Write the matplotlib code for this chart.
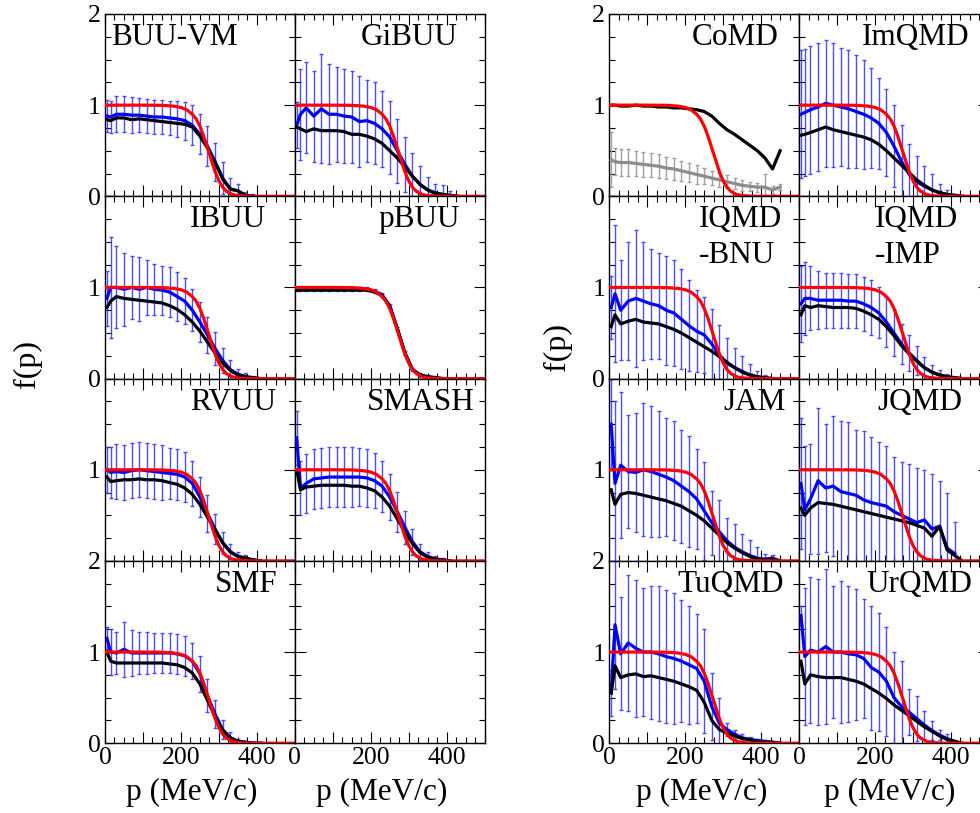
import numpy as np
import matplotlib
matplotlib.use("Agg")
import matplotlib.pyplot as plt
from matplotlib.ticker import MultipleLocator

plt.rcParams['font.family'] = ['Liberation Serif', 'DejaVu Serif']

N = np.nan

# momentum grid (MeV/c) shared by all transport-code curves
P = [5, 15, 30, 50, 70, 90, 110, 130, 150, 170, 190, 210, 230, 250, 270,
     290, 310, 330, 350, 370, 390, 410, 430, 450]

# red reference curve (ground state)
red_p = [0, 100, 150, 180, 200, 215, 230, 240, 250, 260, 270, 280, 290, 300,
         310, 320, 335, 350, 380, 500]
red_f = [1.0, 1.0, 0.998, 0.99, 0.975, 0.95, 0.9, 0.85, 0.77, 0.66, 0.53, 0.4,
         0.27, 0.17, 0.1, 0.055, 0.02, 0.008, 0.0, 0.0]

buuvm_blue = [0.88, 0.87, 0.9, 0.9, 0.89, 0.89, 0.88, 0.87, 0.87, 0.86, 0.85, 0.83, 0.78, 0.68, 0.55,
              0.38, 0.2, 0.08, 0.06, 0.01, 0.0, N, N, N]
buuvm_err = [0.18, 0.18, 0.2, 0.2, 0.2, 0.19, 0.19, 0.19, 0.19, 0.19, 0.2, 0.21, 0.22, 0.22, 0.22,
             0.21, 0.18, 0.12, 0.08, 0.04, 0.02, N, N, N]
buuvm_black = [0.84, 0.83, 0.86, 0.86, 0.84, 0.85, 0.84, 0.83, 0.82, 0.81, 0.8, 0.79, 0.76, 0.66, 0.53,
               0.37, 0.19, 0.08, 0.06, 0.01, 0.0, N, N, N]

gibuu_blue = [0.78, 0.9, 0.97, 0.88, 0.96, 0.9, 0.9, 0.88, 0.87, 0.82, 0.83, 0.8, 0.74, 0.65, 0.5,
              0.35, 0.22, 0.13, 0.07, 0.04, 0.02, 0.01, 0.0, N]
gibuu_err = [0.25, 0.5, 0.5, 0.5, 0.6, 0.55, 0.52, 0.52, 0.5, 0.5, 0.45, 0.45, 0.42, 0.4, 0.35,
             0.3, 0.25, 0.2, 0.14, 0.1, 0.1, 0.05, N, N]
gibuu_black = [0.76, 0.74, 0.71, 0.74, 0.72, 0.72, 0.72, 0.71, 0.68, 0.68, 0.66, 0.63, 0.58, 0.5, 0.42,
               0.32, 0.22, 0.13, 0.07, 0.03, 0.02, 0.01, 0.0, N]

ibuu_blue = [0.88, 1.0, 1.0, 0.98, 1.0, 0.98, 1.0, 0.98, 0.97, 0.95, 0.9, 0.85, 0.75, 0.62, 0.48,
             0.33, 0.2, 0.1, 0.05, 0.02, 0.01, 0.0, N, N]
ibuu_err = [0.3, 0.55, 0.45, 0.4, 0.35, 0.35, 0.3, 0.28, 0.27, 0.27, 0.27, 0.25, 0.23, 0.22, 0.2,
            0.18, 0.14, 0.1, 0.06, 0.04, 0.02, N, N, N]
ibuu_black = [0.78, 0.85, 0.9, 0.88, 0.87, 0.86, 0.85, 0.84, 0.83, 0.8, 0.76, 0.7, 0.62, 0.52, 0.4,
              0.28, 0.17, 0.09, 0.04, 0.02, 0.01, 0.0, N, N]

pbuu_blue = [0.98, 0.98, 0.98, 0.98, 0.98, 0.98, 0.98, 0.98, 0.98, 0.98, 0.98, 0.96, 0.92, 0.8, 0.55,
             0.28, 0.1, 0.04, 0.02, 0.01, 0.0, 0.0, 0.0, N]
pbuu_err = [0.02] * 21 + [N, N, N]
pbuu_black = [0.97, 0.97, 0.97, 0.97, 0.97, 0.97, 0.97, 0.97, 0.97, 0.97, 0.97, 0.95, 0.91, 0.79, 0.55,
              0.28, 0.1, 0.04, 0.02, 0.01, 0.0, 0.0, 0.0, N]

rvuu_blue = [1.0, 0.97, 0.98, 0.97, 0.99, 1.0, 0.99, 0.98, 0.97, 0.96, 0.95, 0.92, 0.85, 0.7, 0.52,
             0.35, 0.2, 0.1, 0.05, 0.03, 0.01, 0.0, N, N]
rvuu_err = [0.25, 0.28, 0.3, 0.3, 0.3, 0.3, 0.3, 0.3, 0.3, 0.28, 0.28, 0.27, 0.25, 0.22, 0.2,
            0.17, 0.12, 0.08, 0.05, 0.03, 0.02, N, N, N]
rvuu_black = [0.92, 0.87, 0.88, 0.89, 0.89, 0.9, 0.89, 0.89, 0.88, 0.86, 0.84, 0.8, 0.73, 0.62, 0.48,
              0.34, 0.2, 0.1, 0.05, 0.03, 0.01, 0.0, N, N]

smash_blue = [1.35, 0.8, 0.85, 0.9, 0.91, 0.92, 0.92, 0.92, 0.92, 0.92, 0.91, 0.88, 0.82, 0.7, 0.54,
              0.37, 0.21, 0.1, 0.05, 0.02, 0.01, 0.0, N, N]
smash_err = [0.3, 0.3, 0.32, 0.33, 0.33, 0.33, 0.33, 0.33, 0.33, 0.32, 0.32, 0.3, 0.28, 0.25, 0.22,
             0.18, 0.14, 0.09, 0.05, 0.03, 0.02, N, N, N]
smash_black = [1.0, 0.78, 0.81, 0.82, 0.83, 0.83, 0.83, 0.83, 0.82, 0.82, 0.8, 0.77, 0.7, 0.6, 0.46,
               0.32, 0.19, 0.09, 0.04, 0.02, 0.01, 0.0, N, N]

smf_blue = [1.15, 1.0, 0.99, 1.03, 0.99, 0.99, 0.99, 0.99, 0.99, 0.99, 0.98, 0.96, 0.9, 0.76, 0.52,
            0.32, 0.15, 0.06, 0.02, 0.01, 0.0, 0.0, N, N]
smf_err = [0.12, 0.25, 0.23, 0.3, 0.25, 0.23, 0.23, 0.22, 0.22, 0.22, 0.22, 0.22, 0.2, 0.2, 0.18,
           0.15, 0.1, 0.06, 0.03, 0.01, N, N, N, N]
smf_black = [1.0, 0.9, 0.88, 0.88, 0.88, 0.88, 0.88, 0.88, 0.88, 0.87, 0.86, 0.83, 0.77, 0.65, 0.47,
             0.29, 0.14, 0.06, 0.02, 0.01, 0.0, 0.0, N, N]

# CoMD: grey points with bars instead of blue
comd_grey = [0.4, 0.38, 0.37, 0.37, 0.36, 0.35, 0.34, 0.33, 0.31, 0.3, 0.28, 0.26, 0.24, 0.22, 0.2,
             0.18, 0.16, 0.14, 0.12, 0.11, 0.1, 0.1, 0.07, 0.1]
comd_err = [0.3, 0.15, 0.15, 0.15, 0.14, 0.14, 0.13, 0.13, 0.12, 0.12, 0.11, 0.1, 0.1, 0.09, 0.08,
            0.08, 0.07, 0.06, 0.06, 0.05, 0.05, 0.15, 0.04, 0.03]
comd_black = [1.0, 1.0, 0.99, 0.99, 1.0, 0.99, 0.99, 0.98, 0.98, 0.97, 0.97, 0.96, 0.95, 0.93, 0.88,
              0.8, 0.73, 0.68, 0.62, 0.56, 0.5, 0.42, 0.3, 0.5]

imqmd_blue = [0.9, 0.92, 0.95, 0.98, 1.02, 1.0, 0.98, 0.96, 0.93, 0.9, 0.86, 0.8, 0.7, 0.55, 0.38,
              0.24, 0.16, 0.11, 0.07, 0.04, 0.02, 0.01, 0.0, N]
imqmd_err = [0.7, 0.7, 0.7, 0.7, 0.7, 0.68, 0.65, 0.65, 0.62, 0.6, 0.55, 0.5, 0.48, 0.45, 0.4,
             0.33, 0.28, 0.22, 0.17, 0.1, 0.05, 0.02, N, N]
imqmd_black = [0.67, 0.68, 0.7, 0.73, 0.76, 0.73, 0.71, 0.69, 0.67, 0.65, 0.62, 0.57, 0.5, 0.42, 0.34,
               0.26, 0.18, 0.12, 0.07, 0.04, 0.02, 0.01, 0.0, N]

bnu_blue = [0.78, 0.93, 0.75, 0.85, 0.88, 0.85, 0.82, 0.8, 0.75, 0.72, 0.65, 0.58, 0.52, 0.48, 0.38,
            0.26, 0.17, 0.12, 0.08, 0.04, 0.02, 0.01, 0.0, N]
bnu_err = [0.35, 0.75, 0.55, 0.65, 0.75, 0.65, 0.6, 0.58, 0.6, 0.58, 0.55, 0.5, 0.45, 0.42, 0.38,
           0.33, 0.28, 0.22, 0.17, 0.12, 0.06, 0.03, N, N]
bnu_black = [0.57, 0.7, 0.6, 0.63, 0.65, 0.62, 0.61, 0.6, 0.57, 0.54, 0.5, 0.45, 0.4, 0.35, 0.3,
             0.24, 0.18, 0.12, 0.07, 0.04, 0.02, 0.01, 0.0, N]

imp_blue = [0.82, 0.88, 0.88, 0.86, 0.86, 0.86, 0.86, 0.85, 0.85, 0.82, 0.78, 0.72, 0.62, 0.5, 0.38,
            0.28, 0.2, 0.12, 0.07, 0.04, 0.02, 0.01, 0.0, N]
imp_err = [0.42, 0.4, 0.35, 0.32, 0.3, 0.3, 0.3, 0.3, 0.3, 0.3, 0.3, 0.28, 0.27, 0.25, 0.22,
           0.2, 0.16, 0.12, 0.08, 0.05, 0.03, N, N, N]
imp_black = [0.7, 0.8, 0.78, 0.8, 0.79, 0.78, 0.78, 0.78, 0.77, 0.74, 0.7, 0.65, 0.57, 0.47, 0.36,
             0.27, 0.19, 0.12, 0.07, 0.04, 0.02, 0.01, 0.0, N]

jam_blue = [1.5, 0.85, 1.05, 0.98, 0.97, 1.0, 0.98, 0.95, 0.92, 0.88, 0.82, 0.76, 0.68, 0.55, 0.42,
            0.32, 0.22, 0.15, 0.1, 0.06, 0.03, 0.02, 0.03, 0.0]
jam_err = [0.5, 0.9, 0.8, 0.62, 0.65, 0.73, 0.72, 0.69, 0.65, 0.65, 0.62, 0.61, 0.55, 0.54, 0.35,
           0.35, 0.25, 0.25, 0.2, 0.17, 0.12, 0.06, 0.04, N]
jam_black = [0.78, 0.62, 0.73, 0.75, 0.74, 0.72, 0.7, 0.68, 0.66, 0.63, 0.6, 0.55, 0.5, 0.44, 0.36,
             0.28, 0.2, 0.14, 0.09, 0.05, 0.02, 0.01, 0.02, 0.0]

jqmd_blue = [0.85, 0.56, 0.68, 0.88, 0.8, 0.82, 0.76, 0.74, 0.72, 0.67, 0.64, 0.62, 0.6, 0.54, 0.5,
             0.46, 0.42, 0.45, 0.35, 0.38, 0.14, 0.08, N, N]
jqmd_err = [0.72, 0.7, 0.6, 0.8, 0.7, 0.77, 0.78, 0.78, 0.72, 0.75, 0.72, 0.68, 0.66, 0.6, 0.58,
            0.6, 0.6, 0.55, 0.6, 0.5, 0.6, 0.35, N, N]
jqmd_black = [0.58, 0.5, 0.58, 0.64, 0.63, 0.62, 0.6, 0.58, 0.56, 0.54, 0.52, 0.5, 0.48, 0.46, 0.44,
              0.42, 0.39, 0.36, 0.27, 0.38, 0.12, 0.06, 0.0, N]

tuqmd_blue = [0.55, 1.3, 0.98, 1.1, 1.04, 1.0, 1.0, 0.98, 0.95, 0.93, 0.9, 0.86, 0.82, 0.68, 0.4,
              0.22, 0.15, 0.1, 0.06, 0.04, 0.03, 0.02, 0.01, 0.0]
tuqmd_err = [0.25, 0.7, 0.62, 0.75, 0.75, 0.7, 0.73, 0.74, 0.73, 0.72, 0.67, 0.65, 0.6, 0.57, 0.37,
             0.28, 0.07, 0.05, 0.04, 0.03, 0.02, 0.02, 0.01, N]
tuqmd_black = [0.55, 0.85, 0.72, 0.75, 0.76, 0.73, 0.74, 0.72, 0.7, 0.68, 0.65, 0.62, 0.58, 0.45, 0.25,
               0.15, 0.11, 0.08, 0.05, 0.04, 0.02, 0.01, 0.01, 0.0]

urqmd_blue = [1.4, 0.95, 1.02, 1.0, 1.06, 1.0, 1.0, 0.98, 0.97, 0.93, 0.83, 0.78, 0.68, 0.5, 0.4,
              0.34, 0.27, 0.2, 0.14, 0.09, 0.05, 0.02, N, N]
urqmd_err = [0.1, 0.75, 0.8, 0.8, 0.85, 0.72, 0.78, 0.75, 0.72, 0.65, 0.68, 0.65, 0.6, 0.5, 0.5,
             0.25, 0.25, 0.15, 0.1, 0.05, 0.05, 0.02, N, N]
urqmd_black = [0.9, 0.65, 0.75, 0.73, 0.72, 0.72, 0.72, 0.7, 0.68, 0.65, 0.6, 0.55, 0.49, 0.42, 0.36,
               0.3, 0.24, 0.18, 0.13, 0.08, 0.04, 0.02, 0.0, N]

# (title, x of title in axes fraction, alignment, mean, error, black, bar colour)
panels = {
    (0, 0, 0): ("BUU-VM", 0.03, "left", buuvm_blue, buuvm_err, buuvm_black, "b"),
    (0, 0, 1): ("GiBUU", 0.86, "right", gibuu_blue, gibuu_err, gibuu_black, "b"),
    (0, 1, 0): ("IBUU", 0.85, "right", ibuu_blue, ibuu_err, ibuu_black, "b"),
    (0, 1, 1): ("pBUU", 0.87, "right", pbuu_blue, pbuu_err, pbuu_black, "b"),
    (0, 2, 0): ("RVUU", 0.9, "right", rvuu_blue, rvuu_err, rvuu_black, "b"),
    (0, 2, 1): ("SMASH", 0.95, "right", smash_blue, smash_err, smash_black, "b"),
    (0, 3, 0): ("SMF", 0.91, "right", smf_blue, smf_err, smf_black, "b"),
    (0, 3, 1): None,
    (1, 0, 0): ("CoMD", 0.89, "right", comd_grey, comd_err, comd_black, "g"),
    (1, 0, 1): ("ImQMD", 0.9, "right", imqmd_blue, imqmd_err, imqmd_black, "b"),
    (1, 1, 0): ("IQMD\n-BNU", 0.47, "left", bnu_blue, bnu_err, bnu_black, "b"),
    (1, 1, 1): ("IQMD\n-IMP", 0.4, "left", imp_blue, imp_err, imp_black, "b"),
    (1, 2, 0): ("JAM", 0.93, "right", jam_blue, jam_err, jam_black, "b"),
    (1, 2, 1): ("JQMD", 0.86, "right", jqmd_blue, jqmd_err, jqmd_black, "b"),
    (1, 3, 0): ("TuQMD", 0.92, "right", tuqmd_blue, tuqmd_err, tuqmd_black, "b"),
    (1, 3, 1): ("UrQMD", 0.91, "right", urqmd_blue, urqmd_err, urqmd_black, "b"),
}

W, H = 980, 813
fig = plt.figure(figsize=(W / 100, H / 100), dpi=100)

block_x = [105, 609.3]
col_w = 189.8
top = 14
row_h = 182.3
ylab_rows = [["0", "1", "2"], ["0", "1", ""], ["", "1", ""], ["0", "1", "2"]]

for (b, r, c), info in panels.items():
    x0 = block_x[b] + c * col_w
    y0 = top + (r + 1) * row_h
    ax = fig.add_axes([x0 / W, 1 - y0 / H, col_w / W, row_h / H])
    ax.set_xlim(0, 500)
    ax.set_ylim(0, 2)
    ax.set_xticks([0, 100, 200, 300, 400, 500])
    ax.xaxis.set_minor_locator(MultipleLocator(25))
    ax.set_yticks([0, 1, 2])
    ax.yaxis.set_minor_locator(MultipleLocator(0.25))
    ax.tick_params(which="both", direction="in", top=True, right=True, width=0.8)
    ax.tick_params(which="major", length=8, labelsize=18.5, pad=3)
    ax.tick_params(which="minor", length=4)
    for s in ax.spines.values():
        s.set_linewidth(1.0)
    if r == 3:
        ax.set_xticklabels(["0", "", "200", "", "400", ""])
    else:
        ax.tick_params(labelbottom=False)
    if c == 0:
        ax.set_yticklabels(ylab_rows[r])
    else:
        ax.tick_params(labelleft=False)
    if info is None:
        continue
    name, tx, ha, mean, err, black, bc = info
    if bc == "b":
        ax.errorbar(P, mean, yerr=err, fmt="none", ecolor="#3a3aff", elinewidth=1.0,
                    capsize=1.6, capthick=1.0, alpha=0.9, zorder=2)
        ax.plot(P, mean, color="#0000ff", lw=2.3, zorder=3)
    else:
        ax.errorbar(P, mean, yerr=err, fmt="none", ecolor="#a0a0a0", elinewidth=1.0,
                    capsize=1.6, capthick=1.0, zorder=2)
        ax.plot(P, mean, color="#8c8c8c", lw=2.3, zorder=3)
    ax.plot(P, black, color="black", lw=2.3, zorder=4)
    ax.plot(red_p, red_f, color="#ff0000", lw=2.3, zorder=5)
    for k, line in enumerate(name.split("\n")):
        ax.text(tx, 1 - (31 + 36 * k) / row_h, line, transform=ax.transAxes,
                ha=ha, va="baseline", fontsize=22.5)

for xc in [192, 382, 702, 890]:
    fig.text(xc / W, 1 - 792 / H, "p (MeV/c)", ha="center", va="center", fontsize=22.5)
fig.text(27 / W, 1 - 364 / H, "f(p)", ha="center", va="center", rotation=90, fontsize=23)
fig.text(557 / W, 1 - 347 / H, "f(p)", ha="center", va="center", rotation=90, fontsize=23)

fig.savefig("out.png", dpi=100)
